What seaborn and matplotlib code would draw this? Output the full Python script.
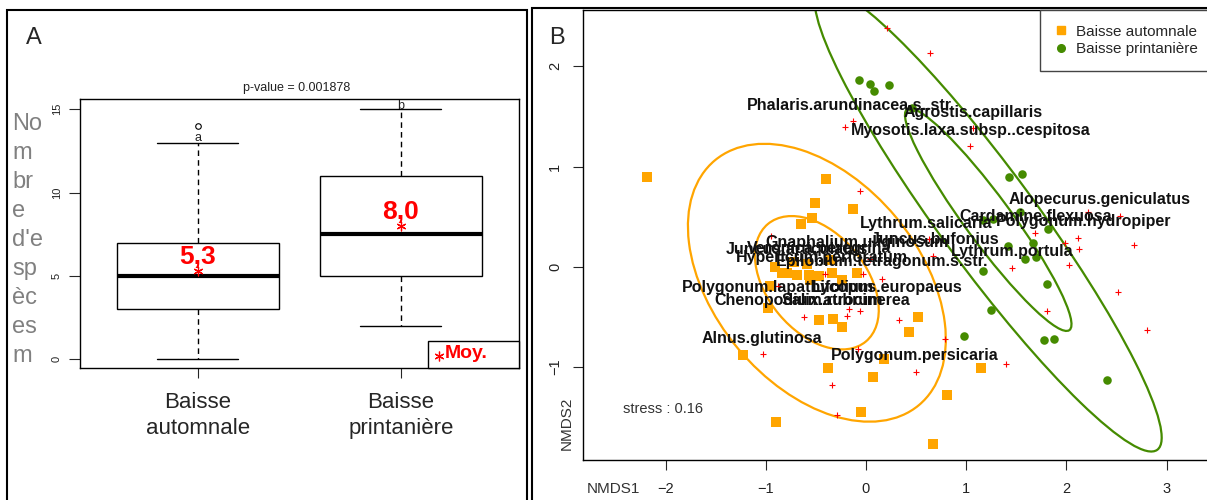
import numpy as np
import pandas as pd
import matplotlib.pyplot as plt
from matplotlib.patches import Ellipse, Rectangle
from matplotlib.lines import Line2D
import seaborn as sns

# ---------------- Panel A : species richness per group ----------------
groups = ['Baisse\nautomnale', 'Baisse\nprintanière']
box_q1 = [3, 5]
box_med = [5, 7.5]
box_q3 = [7, 11]
whisk_lo = [0, 2]
whisk_hi = [13, 15]
fliers = [[14], []]
means = [5.3, 8.0]
mean_labels = ['5,3', '8,0']
letters = ['a', 'b']
letter_y = [13.3, 15.2]
pvalue_txt = 'p-value = 0.001878'
ylab_chunks = ['No', 'm', 'br', 'e', "d'e", 'sp', 'èc', 'es', 'm']
legend_txt = 'Moy.'

# ---------------- Panel B : NMDS ----------------
auto_x = [-2.19, -0.40, -0.51, -0.13, -0.54, -0.65, -0.91, -0.84, -0.79, -0.69,
          -0.57, -0.47, -0.34, -0.24, -0.09, -0.59, -0.36, -0.56, -0.98, -0.96,
          -0.47, -0.33, -0.24, 0.52, 0.43, 0.18, 1.15, 0.81, 0.67, -1.23,
          -0.38, 0.07, -0.05, -0.90, -0.72]
auto_y = [0.90, 0.875, 0.64, 0.575, 0.49, 0.43, 0.0, -0.06, -0.06, -0.08,
          -0.08, -0.09, -0.06, -0.13, -0.06, 0.03, 0.07, -0.13, -0.41, -0.19,
          -0.53, -0.52, -0.60, -0.50, -0.65, -0.92, -1.01, -1.28, -1.77, -0.88,
          -1.01, -1.10, -1.45, -1.55, 0.05]
print_x = [-0.07, 0.04, 0.08, 0.23, 0.46, 1.43, 1.56, 1.54, 1.82, 1.17, 1.27,
           1.67, 1.42, 1.59, 1.70, 1.17, 1.81, 1.25, 0.98, 1.78, 1.88, 2.41]
print_y = [1.86, 1.82, 1.75, 1.81, 1.58, 0.90, 0.925, 0.55, 0.38, 0.47, 0.48,
           0.24, 0.21, 0.08, 0.10, -0.04, -0.17, -0.43, -0.69, -0.73, -0.72, -1.13]

sp_x = [0.21, 0.64, -0.13, -0.21, 1.07, 1.04, -0.06, -0.95, 2.22, 2.53, 1.69, 2.12,
        0.63, 0.67, 1.46, 1.99, 2.13, 2.67, 2.03, 0.16, 2.52, 1.81, 2.80, 0.33,
        0.79, 1.40, 0.50, -0.62, -0.19, -0.06, -0.17, -1.03, -0.34, -0.29, -0.08,
        -0.03, -0.88, 0.04, -0.41]
sp_y = [2.38, 2.13, 1.45, 1.39, 1.38, 1.20, 0.76, 0.31, 0.55, 0.51, 0.34, 0.29,
        0.28, 0.11, -0.01, 0.24, 0.18, 0.22, 0.02, -0.12, -0.25, -0.44, -0.63, -0.53,
        -0.72, -0.97, -1.05, -0.50, -0.49, -0.44, -0.42, -0.87, -1.18, -1.48, -0.82,
        -0.07, -0.19, 0.08, -0.07]

lab_names = ['Phalaris.arundinacea.s..str.', 'Agrostis.capillaris',
             'Myosotis.laxa.subsp..cespitosa', 'Alopecurus.geniculatus',
             'Cardamine.flexuosa', 'Polygonum.hydropiper', 'Lythrum.salicaria',
             'Juncus.bufonius', 'Gnaphalium.uliginosum', 'Juncus.articulatus',
             'Veronica.peregrina', 'Hypericum.perforatum',
             'Epilobium.tetragonum.s.str.', 'Lythrum.portula',
             'Polygonum.lapathifolium', 'Lycopus.europaeus', 'Chenopodium.rubrum',
             'Salix.atrocinerea', 'Alnus.glutinosa', 'Polygonum.persicaria']
lab_x = [-0.15, 1.07, 1.05, 2.33, 1.69, 2.17, 0.60, 0.69, -0.09, -0.69,
         -0.47, -0.44, 0.16, 1.46, -0.88, 0.21, -0.67, -0.20, -1.04, 0.49]
lab_y = [1.61, 1.54, 1.36, 0.67, 0.50, 0.45, 0.43, 0.27, 0.24, 0.17,
         0.18, 0.09, 0.05, 0.15, -0.21, -0.21, -0.34, -0.34, -0.72, -0.89]

# ellipses: centre, semi-axes (outer), angle, inner scale
ell_center = {'auto': (-0.49, -0.16), 'print': (1.22, 0.47)}
ell_axes = {'auto': (1.59, 1.025), 'print': (2.85, 0.48)}
ell_angle = {'auto': -50.2, 'print': -53.7}
ell_inner = 0.48
stress_txt = 'stress : 0.16'

ORANGE = '#FFA500'
GREEN = '#458B00'

sns.set_style('ticks')
plt.rcParams['font.family'] = ['Liberation Sans', 'DejaVu Sans']
plt.rcParams['axes.edgecolor'] = 'black'
plt.rcParams['axes.linewidth'] = 1.0

W, H = 1207, 500
fig = plt.figure(figsize=(W / 100, H / 100), dpi=100)


def fx(x):
    return x / W


def fy(y):
    return 1 - y / H


# ----- panel A -----
axA = fig.add_axes([fx(80), fy(368.3), fx(518.6 - 80), (368.3 - 99.3) / H])
stats = []
for i in range(2):
    stats.append(dict(med=box_med[i], q1=box_q1[i], q3=box_q3[i],
                      whislo=whisk_lo[i], whishi=whisk_hi[i], fliers=fliers[i]))
axA.bxp(stats, positions=[1, 2], widths=0.8, capwidths=0.4, patch_artist=True,
        boxprops=dict(facecolor='white', edgecolor='black', lw=1),
        medianprops=dict(color='black', lw=3, solid_capstyle='butt'),
        whiskerprops=dict(color='black', lw=1, ls=(0, (4, 3))),
        capprops=dict(color='black', lw=1),
        flierprops=dict(marker='o', mfc='none', mec='black', ms=4, mew=0.8))
sns.scatterplot(x=[1, 2], y=means, marker=(6, 2, 0), color='red', s=40,
                linewidth=0.9, ax=axA, zorder=5)
for i in range(2):
    axA.text(i + 1, means[i] + 0.85, mean_labels[i], color='red', fontsize=19,
             fontweight='bold', ha='center', va='center')
    axA.text(i + 1, letter_y[i], letters[i], fontsize=9, ha='center', va='center',
             color='#222222')
axA.set_xlim(0.42, 2.58)
axA.set_ylim(-0.54, 15.6)
axA.set_xticks([1, 2])
axA.set_xticklabels(groups, fontsize=16)
for t in axA.get_xticklabels():
    t.set_linespacing(1.3)
axA.set_yticks([0, 5, 10, 15])
axA.tick_params(axis='y', labelrotation=90, labelsize=8, length=8, pad=5,
                left=True, labelcolor='#222222')
axA.tick_params(axis='x', length=7, pad=10, bottom=True)
for t in axA.get_yticklabels():
    t.set_va('center')
for s in axA.spines.values():
    s.set_visible(True)
axA.set_xlabel('')
axA.set_ylabel('')

# "Moy." legend box in the lower right corner of panel A
fig.add_artist(Rectangle((fx(428), fy(368.3)), fx(518.6 - 428), (368.3 - 340.7) / H,
                         transform=fig.transFigure, fill=True, fc='white',
                         ec='black', lw=1.0, zorder=6))
fig.add_artist(Line2D([fx(438.5)], [fy(356)], ls='none', marker=(6, 2, 0),
                      color='red', ms=7, mew=0.9, transform=fig.transFigure,
                      zorder=7))
fig.text(fx(445), fy(354), legend_txt, fontsize=14, fontweight='bold',
         color='red', ha='left', va='center', zorder=7)

fig.text(fx(297), fy(88), pvalue_txt, fontsize=9, ha='center', va='center',
         color='#222222')
for k, chunk in enumerate(ylab_chunks):
    fig.text(fx(12), fy(124 + k * 29), chunk, fontsize=17, color='#808080',
             ha='left', va='center')
fig.text(fx(34), fy(38), 'A', fontsize=17, ha='center', va='center')

# ----- panel B -----
axB = fig.add_axes([fx(583), fy(460), fx(1216 - 583), (460 - 10) / H])
for key, col in (('auto', ORANGE), ('print', GREEN)):
    a, b = ell_axes[key]
    for sc in (1.0, ell_inner):
        axB.add_patch(Ellipse(ell_center[key], 2 * a * sc, 2 * b * sc,
                              angle=ell_angle[key], fill=False, ec=col, lw=1.6))
sns.scatterplot(x=auto_x, y=auto_y, marker='s', color=ORANGE, s=48,
                linewidth=0, ax=axB, zorder=3)
sns.scatterplot(x=print_x, y=print_y, marker='o', color=GREEN, s=38,
                linewidth=0, ax=axB, zorder=3)
sns.scatterplot(x=sp_x, y=sp_y, marker='+', color='red', s=22, linewidth=0.8,
                ax=axB, zorder=3)
for name, x, y in zip(lab_names, lab_x, lab_y):
    axB.text(x, y, name, fontsize=11.5, fontweight='bold', ha='center',
             va='center', color='#111111', zorder=4)
axB.text(-2.42, -1.42, stress_txt, fontsize=10.5, ha='left', va='center',
         color='#333333')
axB.set_xlim(-2.824, 3.493)
axB.set_ylim(-1.929, 2.562)
axB.set_xticks([-2, -1, 0, 1, 2, 3])
axB.set_yticks([-1, 0, 1, 2])
axB.tick_params(axis='both', labelsize=10.5, length=7, bottom=True, left=True,
                labelcolor='#222222')
axB.tick_params(axis='x', pad=9)
axB.tick_params(axis='y', labelrotation=90, pad=8)
for t in axB.get_yticklabels():
    t.set_va('center')
for s in axB.spines.values():
    s.set_visible(True)
axB.legend(handles=[Line2D([], [], ls='none', marker='s', color=ORANGE, ms=6),
                    Line2D([], [], ls='none', marker='o', color=GREEN, ms=5.5)],
           labels=['Baisse automnale', 'Baisse printanière'],
           loc='upper left', bbox_to_anchor=(fx(1040), fy(10)),
           bbox_transform=fig.transFigure, borderaxespad=0, fancybox=False,
           framealpha=1, edgecolor='#444444', fontsize=11, handlelength=0.8,
           handletextpad=0.6, borderpad=0.95, labelspacing=0.25)
fig.text(fx(567), fy(423), 'NMDS2', fontsize=11, rotation=90, ha='center',
         va='center', color='#333333')
fig.text(fx(613), fy(489), 'NMDS1', fontsize=11, ha='center', va='center',
         color='#333333')
fig.text(fx(557), fy(38), 'B', fontsize=17, ha='center', va='center')

# panel frames
fig.add_artist(Rectangle((fx(7), -0.02), fx(527 - 7), fy(10) + 0.02,
                         transform=fig.transFigure, fill=False, ec='black', lw=1.5))
fig.add_artist(Rectangle((fx(532), -0.02), fx(1220 - 532), fy(8) + 0.02,
                         transform=fig.transFigure, fill=False, ec='black', lw=1.5))

fig.savefig('out.png', dpi=100)
